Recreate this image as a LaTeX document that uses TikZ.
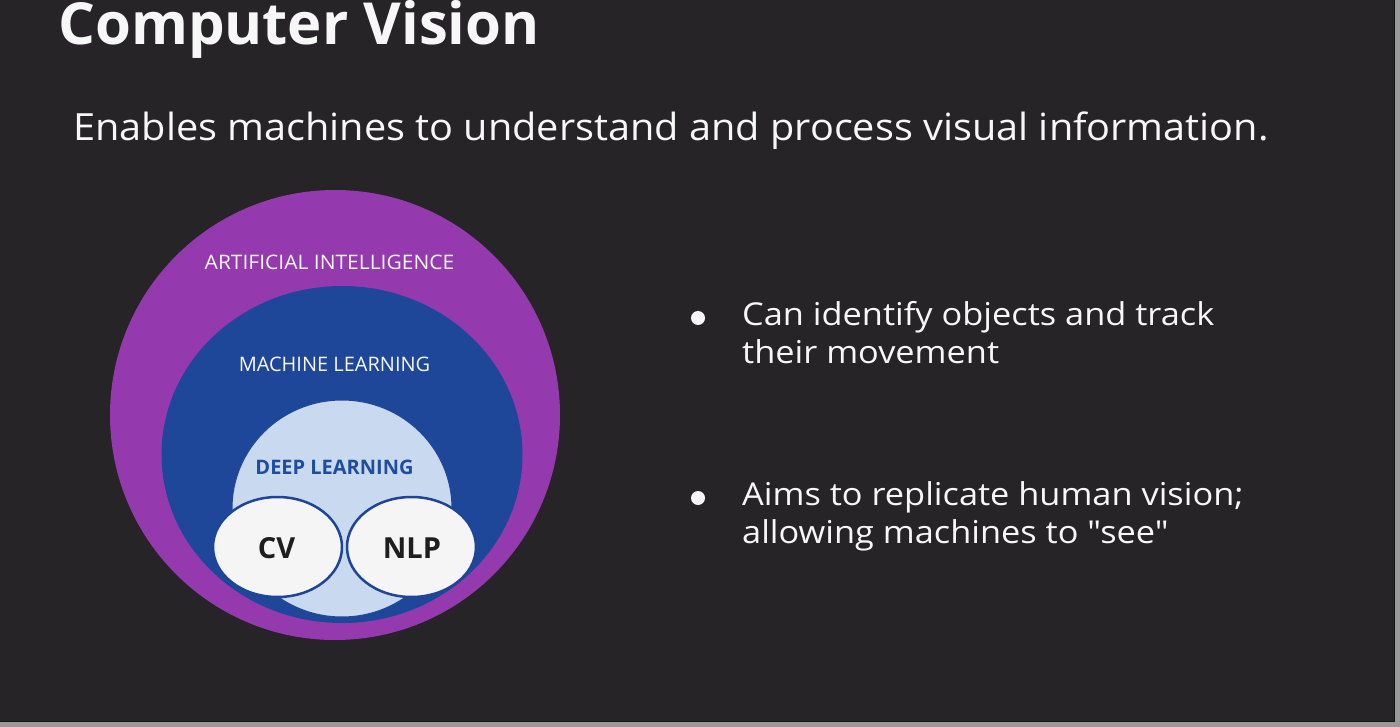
\documentclass[tikz,border=0pt]{standalone}
\usepackage{fontspec}
\setmainfont{Open Sans}
\newfontfamily\bulletfont[FakeStretch=1.09]{Open Sans}
\newfontfamily\subfont[FakeStretch=1.058]{Open Sans}
\newfontfamily\aifont[FakeStretch=1.05]{Open Sans}
\usetikzlibrary{shapes.geometric}
\definecolor{bgdark}{HTML}{262427}
\definecolor{framegrey}{HTML}{999999}
\definecolor{edgedark}{HTML}{161516}
\definecolor{aipurple}{HTML}{943AAE}
\definecolor{mlblue}{HTML}{1F4799}
\definecolor{dlfill}{HTML}{C9DAF0}
\definecolor{dltext}{HTML}{1F4C9F}
\definecolor{ringblue}{HTML}{1E4597}
\definecolor{ovalfill}{HTML}{F5F5F5}
\definecolor{ovaltext}{HTML}{1E1E1E}
\definecolor{textwhite}{HTML}{F7F7F7}
\begin{document}
\begin{tikzpicture}[x=1pt,y=-1pt,
  set/.style={inner sep=0pt, outer sep=0pt},
  oval/.style={set, ellipse, fill=ovalfill, draw=ringblue, line width=2.5pt, minimum width=129pt, minimum height=100pt},
  setlbl/.style={inner sep=0pt, anchor=base, text=textwhite, font=\fontsize{20}{24}\selectfont},
  ovallbl/.style={inner sep=0pt, anchor=base, text=ovaltext, font=\fontsize{29}{33}\selectfont\bfseries},
  bodytext/.style={inner sep=0pt, anchor=base west, text=textwhite},
  bullettext/.style={bodytext, font=\bulletfont\fontsize{31.5}{36}\selectfont},
  dot/.style={circle, fill=textwhite, inner sep=0pt, minimum size=14pt}
]
\useasboundingbox (0,0) rectangle (1400,727);
\fill[framegrey] (0,0) rectangle (1400,727);
\fill[bgdark] (0,0) rectangle (1395,722);
\draw[edgedark, line width=1pt] (1394.5,0) -- (1394.5,721.5) -- (0,721.5);

% title and subtitle
\node[bodytext, font=\fontsize{58}{64}\selectfont\bfseries] (title) at (58,45) {Computer Vision};
\node[bodytext, font=\subfont\fontsize{37.5}{44}\selectfont] (subtitle) at (73,140.7) {Enables machines to understand and process visual information.};

% nested sets
\node[set, circle, fill=aipurple, minimum size=450pt] (ai) at (335,415) {};
\node[set, ellipse, fill=mlblue, minimum width=361pt, minimum height=337pt] (ml) at (342,454.5) {};
\node[set, ellipse, fill=dlfill, draw=mlblue, line width=1pt, minimum width=220pt, minimum height=217pt] (dl) at (342,508.5) {};
\node[oval] (cv) at (277.5,547) {};
\node[oval] (nlp) at (411.5,547) {};

\node[setlbl, font=\aifont\fontsize{20}{24}\selectfont] (ailbl) at (329.5,269.3) {ARTIFICIAL INTELLIGENCE};
\node[setlbl] (mllbl) at (334.5,371.7) {MACHINE LEARNING};
\node[setlbl, text=dltext, font=\fontsize{20}{24}\selectfont\bfseries] (dllbl) at (334.5,474) {DEEP LEARNING};
\node[ovallbl] (cvlbl) at (276.5,558.3) {CV};
\node[ovallbl] (nlplbl) at (412,558.3) {NLP};

% bullets
\node[dot] (b1) at (698,318) {};
\node[dot] (b2) at (698,498) {};
\node[bullettext] (t1a) at (742,325) {Can identify objects and track};
\node[bullettext] (t1b) at (742,363) {their movement};
\node[bullettext] (t2a) at (742,505) {Aims to replicate human vision;};
\node[bullettext] (t2b) at (742,543) {allowing machines to \char34 see\char34};
\end{tikzpicture}
\end{document}
